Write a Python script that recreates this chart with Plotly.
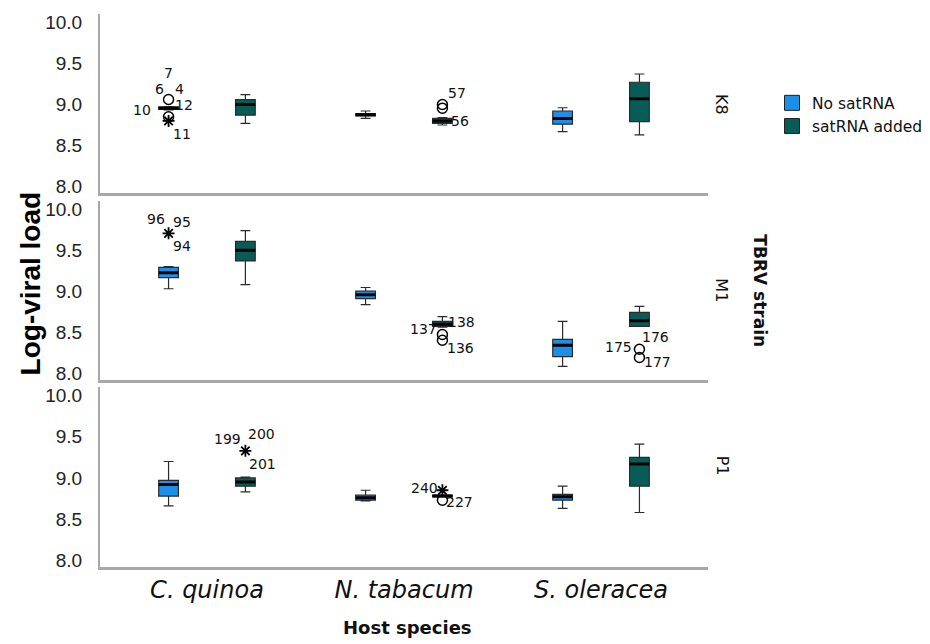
import plotly.graph_objects as go

# ---------------- data ----------------
hosts = ["C. quinoa", "N. tabacum", "S. oleracea"]
strains = ["K8", "M1", "P1"]
treatments = ["No satRNA", "satRNA added"]
y_ticks = [8.0, 8.5, 9.0, 9.5, 10.0]

# five-number summaries per host (C. quinoa, N. tabacum, S. oleracea)
k8_no = {"low": [8.935, 8.83, 8.67], "q1": [8.94, 8.86, 8.76], "median": [8.955, 8.875, 8.83],
         "q3": [8.97, 8.89, 8.92], "high": [8.975, 8.92, 8.96]}
k8_sat = {"low": [8.77, 8.75, 8.63], "q1": [8.87, 8.77, 8.79], "median": [9.0, 8.80, 9.07],
          "q3": [9.06, 8.83, 9.27], "high": [9.12, 8.84, 9.37]}
m1_no = {"low": [9.03, 8.835, 8.08], "q1": [9.165, 8.91, 8.20], "median": [9.225, 8.955, 8.34],
         "q3": [9.29, 9.0, 8.41], "high": [9.30, 9.045, 8.63]}
m1_sat = {"low": [9.08, 8.56, 8.57], "q1": [9.37, 8.57, 8.57], "median": [9.50, 8.595, 8.64],
          "q3": [9.61, 8.63, 8.74], "high": [9.74, 8.69, 8.815]}
p1_no = {"low": [8.66, 8.72, 8.63], "q1": [8.78, 8.73, 8.73], "median": [8.92, 8.76, 8.77],
         "q3": [8.97, 8.79, 8.80], "high": [9.20, 8.85, 8.90]}
p1_sat = {"low": [8.83, 8.77, 8.58], "q1": [8.90, 8.77, 8.90], "median": [8.95, 8.78, 9.17],
          "q3": [9.00, 8.79, 9.25], "high": [9.01, 8.79, 9.41]}

summaries = {("K8", "No satRNA"): k8_no, ("K8", "satRNA added"): k8_sat,
             ("M1", "No satRNA"): m1_no, ("M1", "satRNA added"): m1_sat,
             ("P1", "No satRNA"): p1_no, ("P1", "satRNA added"): p1_sat}

# outlying cases
outlier_strain = ["K8", "K8", "K8", "K8", "K8", "M1", "M1", "M1", "M1", "M1", "P1", "P1", "P1"]
outlier_host = ["C. quinoa", "C. quinoa", "C. quinoa", "N. tabacum", "N. tabacum", "C. quinoa",
                "N. tabacum", "N. tabacum", "S. oleracea", "S. oleracea", "C. quinoa",
                "N. tabacum", "N. tabacum"]
outlier_treatment = ["No satRNA", "No satRNA", "No satRNA", "satRNA added", "satRNA added",
                     "No satRNA", "satRNA added", "satRNA added", "satRNA added", "satRNA added",
                     "satRNA added", "satRNA added", "satRNA added"]
outlier_value = [9.06, 8.85, 8.80, 9.00, 8.955, 9.707, 8.47, 8.40, 8.29, 8.19, 9.33, 8.85, 8.73]
outlier_kind = ["circle", "circle", "star", "circle", "circle", "star", "circle", "circle",
                "circle", "circle", "star", "star", "circle"]

# case-number labels
label_text = ["6", "4", "7", "10", "12", "11", "57", "56", "96", "95", "94", "137", "138", "136",
              "175", "176", "177", "199", "200", "201", "240", "227"]
label_strain = ["K8"] * 8 + ["M1"] * 9 + ["P1"] * 5
label_host = ["C. quinoa"] * 6 + ["N. tabacum"] * 2 + ["C. quinoa"] * 3 + ["N. tabacum"] * 3 + \
             ["S. oleracea"] * 3 + ["C. quinoa"] * 3 + ["N. tabacum"] * 2
label_treatment = ["No satRNA"] * 6 + ["satRNA added"] * 2 + ["No satRNA"] * 3 + \
                  ["satRNA added"] * 6 + ["satRNA added"] * 5
label_value = [9.06, 9.06, 9.06, 8.955, 8.955, 8.80, 9.00, 8.955, 9.707, 9.707, 9.707,
               8.47, 8.47, 8.40, 8.29, 8.29, 8.19, 9.33, 9.33, 9.33, 8.85, 8.73]
# pixel offsets of each label from its case (styling)
label_dx = [-9, 11, 0, -27, 15, 13, 15, 18, -13, 13, 13, -19, 19, 18, -21, 16, 18, -18, 16, 17, -18, 17]
label_dy = [-11, -11, -27, 2, -3, 13, -11, 13, -14, -11, 13, -6, -13, 8, -2, -12, 5, -12, -17, 13, -2, 2]

# ---------------- styling ----------------
W, H = 930, 644
PAD = 8  # browser body margin


def px_x(x):
    return (x - PAD) / W


def px_y(y):
    return 1 - (y - PAD) / H


colors = {"No satRNA": "#1c8fe6", "satRNA added": "#075c57"}
offsets = {"No satRNA": -0.195, "satRNA added": 0.195}
box_w = 0.10
panel_px = {"K8": (12, 193), "M1": (201, 381), "P1": (389, 570)}
axis_suffix = {"K8": "", "M1": "2", "P1": "3"}
y_range = [7.92, 10.1]
x_range = [-0.543, 2.543]
x_dom = [px_x(100), px_x(708)]
axis_gray = "#a8a8a8"

fig = go.Figure()

for s in strains:
    sfx = axis_suffix[s]
    for t in treatments:
        d = summaries[(s, t)]
        xs = [i + offsets[t] for i in range(len(hosts))]
        fig.add_trace(go.Box(
            x=xs, q1=d["q1"], median=d["median"], q3=d["q3"],
            lowerfence=d["low"], upperfence=d["high"],
            width=box_w, whiskerwidth=0.5, boxpoints=False,
            fillcolor=colors[t], line=dict(color="#2b2b2b", width=1.2),
            showlegend=False, hoverinfo="skip",
            xaxis="x" + sfx, yaxis="y" + sfx))
        mx, my = [], []
        for x0, m in zip(xs, d["median"]):
            mx += [x0 - box_w / 2, x0 + box_w / 2, None]
            my += [m, m, None]
        fig.add_trace(go.Scatter(x=mx, y=my, mode="lines", line=dict(color="black", width=3),
                                 showlegend=False, hoverinfo="skip",
                                 xaxis="x" + sfx, yaxis="y" + sfx))

# outlier markers
for s in strains:
    sfx = axis_suffix[s]
    for kind, sym, lw, size in [("circle", "circle-open", 1.5, 10), ("star", "asterisk-open", 1.8, 10)]:
        xs, ys = [], []
        for st, h, t, v, k in zip(outlier_strain, outlier_host, outlier_treatment, outlier_value, outlier_kind):
            if st == s and k == kind:
                xs.append(hosts.index(h) + offsets[t])
                ys.append(v)
        if xs:
            fig.add_trace(go.Scatter(x=xs, y=ys, mode="markers",
                                     marker=dict(symbol=sym, size=size, color="black",
                                                 line=dict(color="black", width=lw)),
                                     showlegend=False, hoverinfo="skip",
                                     xaxis="x" + sfx, yaxis="y" + sfx))

# legend entries
for t in treatments:
    fig.add_trace(go.Scatter(x=[None], y=[None], mode="markers", name=t,
                             marker=dict(symbol="square", size=15, color=colors[t],
                                         line=dict(color="#222", width=1))))

annotations = []
for txt, s, h, t, v, dx, dy in zip(label_text, label_strain, label_host, label_treatment,
                                   label_value, label_dx, label_dy):
    sfx = axis_suffix[s]
    annotations.append(dict(x=hosts.index(h) + offsets[t], y=v, xref="x" + sfx, yref="y" + sfx,
                            text=txt, showarrow=False, xshift=dx, yshift=-dy,
                            xanchor="center", yanchor="middle",
                            font=dict(family="DejaVu Sans", size=14, color="#111")))

strain_label_y = {"K8": 103, "M1": 291, "P1": 468}
for s in strains:
    annotations.append(dict(x=px_x(722), y=px_y(strain_label_y[s]), xref="paper", yref="paper",
                            text=s, showarrow=False, textangle=90,
                            xanchor="center", yanchor="middle",
                            font=dict(family="DejaVu Sans", size=16, color="#111")))
annotations.append(dict(x=px_x(760), y=px_y(291), xref="paper", yref="paper",
                        text="<b>TBRV strain</b>", showarrow=False, textangle=90,
                        xanchor="center", yanchor="middle",
                        font=dict(family="DejaVu Sans", size=17, color="#111")))
annotations.append(dict(x=px_x(30), y=px_y(284), xref="paper", yref="paper",
                        text="<b>Log-viral load</b>", showarrow=False, textangle=-90,
                        xanchor="center", yanchor="middle",
                        font=dict(family="Liberation Sans", size=28, color="black")))
annotations.append(dict(x=px_x(407), y=px_y(631), xref="paper", yref="paper",
                        text="<b>Host species</b>", showarrow=False,
                        xanchor="center", yanchor="middle",
                        font=dict(family="DejaVu Sans", size=18, color="#111")))

layout = dict(width=W, height=H, margin=dict(l=0, r=0, t=0, b=0),
              paper_bgcolor="white", plot_bgcolor="white",
              annotations=annotations,
              legend=dict(x=px_x(772), y=px_y(85), xanchor="left", yanchor="top",
                          font=dict(family="DejaVu Sans", size=15.5, color="#111"),
                          bgcolor="rgba(0,0,0,0)", tracegroupgap=0, itemwidth=30))

for s in strains:
    sfx = axis_suffix[s]
    top, bot = panel_px[s]
    layout["xaxis" + sfx] = dict(domain=x_dom, range=x_range, anchor="y" + sfx,
                                 showline=True, linecolor=axis_gray, linewidth=2.5,
                                 showgrid=False, zeroline=False, ticks="", ticklen=0,
                                 tickvals=list(range(len(hosts))),
                                 ticktext=["<i>" + h + "</i>" for h in hosts],
                                 showticklabels=(s == "P1"), ticklabelstandoff=0,
                                 tickfont=dict(family="DejaVu Sans", size=24, color="#111"))
    layout["yaxis" + sfx] = dict(domain=[px_y(bot), px_y(top)], range=y_range,
                                 anchor="x" + sfx, showline=True, linecolor=axis_gray,
                                 linewidth=2, showgrid=False, zeroline=False, ticks="",
                                 tickvals=y_ticks, ticktext=["%.1f" % v for v in y_ticks],
                                 ticklabelstandoff=12,
                                 tickfont=dict(family="Liberation Sans", size=19, color="#222"))

fig.update_layout(**layout)
fig.write_html("out.html")
